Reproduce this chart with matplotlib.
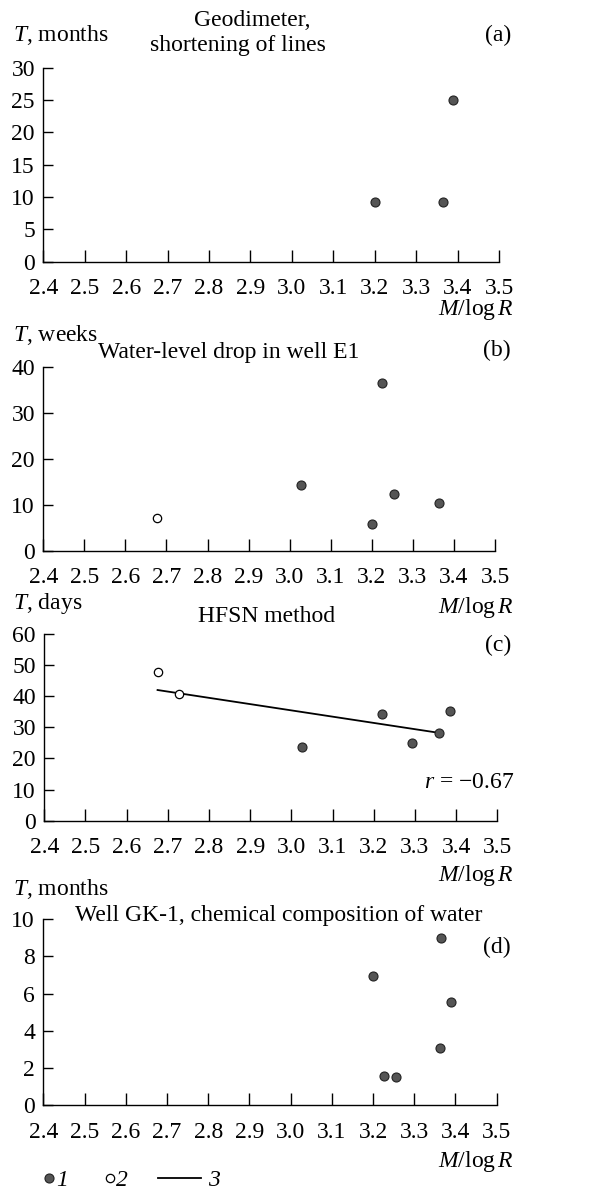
import numpy as np
import matplotlib
matplotlib.use("Agg")
import matplotlib.pyplot as plt
from matplotlib.lines import Line2D

plt.rcParams['font.family'] = ['Liberation Serif', 'DejaVu Serif']
plt.rcParams['mathtext.fontset'] = 'custom'
plt.rcParams['mathtext.rm'] = 'Liberation Serif'
plt.rcParams['mathtext.it'] = 'Liberation Serif:italic'

# panel (a) geodimeter
a_x = [3.20, 3.365, 3.39]
a_y = [9.3, 9.3, 25.0]
# panel (b) water level, well E1
b_x_filled = [3.028, 3.226, 3.253, 3.20, 3.364]
b_y_filled = [14.3, 36.4, 12.4, 5.7, 10.3]
b_x_open = [2.676]
b_y_open = [7.2]
# panel (c) HFSN method
c_x_filled = [3.026, 3.221, 3.293, 3.359, 3.386]
c_y_filled = [23.6, 34.2, 25.1, 28.3, 35.1]
c_x_open = [2.677, 2.728]
c_y_open = [47.9, 40.8]
c_trend_x = [2.675, 3.36]
c_trend_y = [42.0, 28.2]
# panel (d) well GK-1
d_x = [3.20, 3.364, 3.388, 3.363, 3.226, 3.255]
d_y = [6.97, 9.0, 5.55, 3.05, 1.55, 1.5]

xticks = [2.4, 2.5, 2.6, 2.7, 2.8, 2.9, 3.0, 3.1, 3.2, 3.3, 3.4, 3.5]
xticklabels = ['2.4', '2.5', '2.6', '2.7', '2.8', '2.9', '3.0', '3.1', '3.2', '3.3', '3.4', '3.5']

W, H = 594, 1190
fig = plt.figure(figsize=(W / 100, H / 100), dpi=100)
FS = 17

def px(x, y):
    return x / W, 1 - y / H

def make_ax(l, r, t, b, ymax, ystep):
    ax = fig.add_axes([l / W, 1 - b / H, (r - l) / W, (b - t) / H])
    ax.set_xlim(2.4, 3.5)
    ax.set_ylim(0, ymax)
    ax.set_xticks(xticks)
    ax.set_xticklabels(xticklabels)
    ax.set_yticks(np.arange(0, ymax + 0.01, ystep))
    ax.spines['top'].set_visible(False)
    ax.spines['right'].set_visible(False)
    for s in ('left', 'bottom'):
        ax.spines[s].set_linewidth(1.0)
    ax.tick_params(axis='x', direction='in', length=9, width=1.0, pad=12, labelsize=FS)
    ax.tick_params(axis='y', direction='in', length=7, width=1.0, pad=6, labelsize=FS)
    ax.patch.set_visible(False)
    return ax

filled = dict(linestyle='none', marker='o', markersize=6.5, markerfacecolor='#555555',
              markeredgecolor='#222222', markeredgewidth=0.8, clip_on=False)
hollow = dict(linestyle='none', marker='o', markersize=6, markerfacecolor='white',
              markeredgecolor='black', markeredgewidth=0.9, clip_on=False)

# (a)
ax = make_ax(43.3, 499, 67.7, 261.7, 30, 5)
ax.plot(a_x, a_y, **filled)
fig.text(*px(13, 35), '$T$, months', fontsize=FS, va='center', ha='left')
fig.text(*px(252, 20), 'Geodimeter,', fontsize=FS, va='center', ha='center')
fig.text(*px(238, 45), 'shortening of lines', fontsize=FS, va='center', ha='center')
fig.text(*px(511, 35), '(a)', fontsize=FS, va='center', ha='right')
fig.text(*px(514, 310), '$M$/log$\\,R$', fontsize=FS, va='center', ha='right')

# (b)
ax = make_ax(43.3, 495, 366.7, 550.7, 40, 10)
ax.plot(b_x_filled, b_y_filled, **filled)
ax.plot(b_x_open, b_y_open, **hollow)
fig.text(*px(13, 335), '$T$, weeks', fontsize=FS, va='center', ha='left')
fig.text(*px(229, 352), 'Water-level drop in well E1', fontsize=FS, va='center', ha='center')
fig.text(*px(511, 350), '(b)', fontsize=FS, va='center', ha='right')
fig.text(*px(514, 607), '$M$/log$\\,R$', fontsize=FS, va='center', ha='right')

# (c)
ax = make_ax(44.3, 497.3, 634, 820.7, 60, 10)
ax.plot(c_trend_x, c_trend_y, color='black', linewidth=1.3)
ax.plot(c_x_filled, c_y_filled, **filled)
ax.plot(c_x_open, c_y_open, **hollow)
fig.text(*px(13, 603), '$T$, days', fontsize=FS, va='center', ha='left')
fig.text(*px(267, 617), 'HFSN method', fontsize=FS, va='center', ha='center')
fig.text(*px(511, 645), '(c)', fontsize=FS, va='center', ha='right')
fig.text(*px(514, 782), '$r$ = \u22120.67', fontsize=FS, va='center', ha='right')
fig.text(*px(514, 876), '$M$/log$\\,R$', fontsize=FS, va='center', ha='right')

# (d)
ax = make_ax(43.3, 496.7, 919.3, 1105, 10, 2)
ax.plot(d_x, d_y, **filled)
fig.text(*px(13, 889), '$T$, months', fontsize=FS, va='center', ha='left')
fig.text(*px(279, 915), 'Well GK-1, chemical composition of water', fontsize=FS,
         va='center', ha='center')
fig.text(*px(511, 947), '(d)', fontsize=FS, va='center', ha='right')
fig.text(*px(514, 1162), '$M$/log$\\,R$', fontsize=FS, va='center', ha='right')

# legend
lab_prop = dict(family='Liberation Serif', style='italic', size=FS)
h1 = Line2D([], [], **{k: v for k, v in filled.items() if k != 'clip_on'})
h2 = Line2D([], [], **{k: v for k, v in hollow.items() if k != 'clip_on'})
h3 = Line2D([], [], color='black', linewidth=1.3)
fig.legend([h1, h2], ['1', '2'], loc='center left', bbox_to_anchor=px(44, 1180),
           ncol=2, frameon=False, handlelength=0.45, handletextpad=0.05,
           columnspacing=1.55, prop=lab_prop, borderpad=0, borderaxespad=0)
fig.legend([h3], ['3'], loc='center left', bbox_to_anchor=px(158, 1180),
           frameon=False, handlelength=1.8, handletextpad=0.3,
           prop=lab_prop, borderpad=0, borderaxespad=0)

fig.savefig('out.png', dpi=100)
